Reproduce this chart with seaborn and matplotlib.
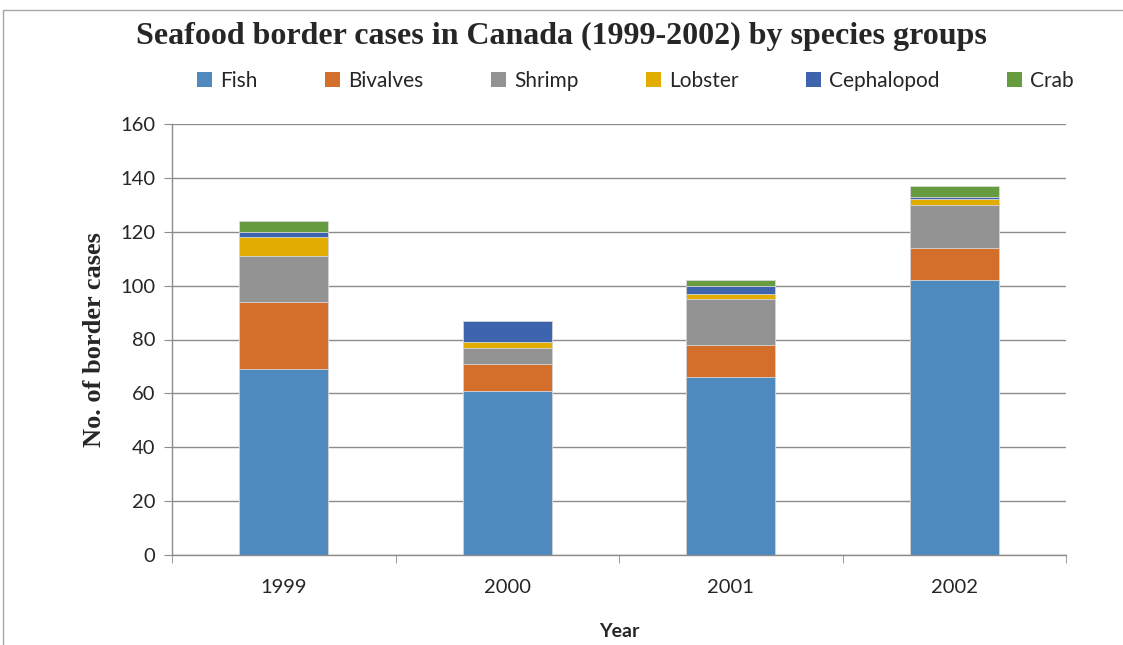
import pandas as pd
import numpy as np
import matplotlib
matplotlib.use('Agg')
import matplotlib.pyplot as plt
import seaborn as sns
from matplotlib.patches import Patch
from matplotlib.lines import Line2D

# Data
years = ['1999', '2000', '2001', '2002']
species = ['Fish', 'Bivalves', 'Shrimp', 'Lobster', 'Cephalopod', 'Crab']
fish = [69, 61, 66, 102]
bivalves = [25, 10, 12, 12]
shrimp = [17, 6, 17, 16]
lobster = [7, 2, 2, 2]
cephalopod = [2, 8, 3, 1]
crab = [4, 0, 2, 4]
colors = ['#4F8ABF', '#D46F2B', '#939393', '#E3AC00', '#3F64AE', '#669B40']

df = pd.DataFrame({'Year': years, 'Fish': fish, 'Bivalves': bivalves,
                   'Shrimp': shrimp, 'Lobster': lobster,
                   'Cephalopod': cephalopod, 'Crab': crab})
cum = df[species].cumsum(axis=1)
cum['Year'] = df['Year']

sns.set_style('white')
plt.rcParams['font.family'] = ['Lato', 'DejaVu Sans']

fig = plt.figure(figsize=(11.23, 6.45), dpi=100)
ax = fig.add_axes([172 / 1123, 1 - 555 / 645, 894 / 1123, 431 / 645])

# draw the stacks from the top down so each layer covers the one above
for name, col in reversed(list(zip(species, colors))):
    sns.barplot(data=cum, x='Year', y=name, color=col, width=0.4,
                edgecolor='#d8d8d8', linewidth=0.6, saturation=1, ax=ax)

grid_col = '#8c8c8c'
ax.set_ylim(0, 160)
ax.set_xlim(-0.5, 3.5)
ax.set_yticks(np.arange(0, 161, 20))
ax.yaxis.grid(True, color=grid_col, linewidth=1)
ax.set_axisbelow(True)
for s in ['top', 'right']:
    ax.spines[s].set_visible(False)
for s in ['left', 'bottom']:
    ax.spines[s].set_color(grid_col)
    ax.spines[s].set_linewidth(1)

ax.tick_params(axis='y', length=6, color=grid_col, labelsize=14.5, pad=6, left=True)
ax.tick_params(axis='x', which='major', length=0, labelsize=14.5, pad=17)
ax.set_xticks(np.arange(-0.5, 3.6, 1), minor=True)
ax.tick_params(axis='x', which='minor', length=6, color=grid_col, bottom=True)

ax.set_xlabel('Year', fontsize=14, fontweight='bold', labelpad=20)
ax.set_ylabel('No. of border cases', fontsize=19, fontweight='bold',
              family='Liberation Serif', labelpad=10)

fig.text(0.5, 1 - 36 / 645, 'Seafood border cases in Canada (1999-2002) by species groups',
         ha='center', va='center', fontsize=23, fontweight='bold',
         family='Liberation Serif')

handles = [Patch(facecolor=c, edgecolor='none', label=s) for s, c in zip(species, colors)]
fig.legend(handles=handles, loc='center', bbox_to_anchor=(0.566, 1 - 81 / 645),
           ncol=6, frameon=False, fontsize=15, handlelength=0.7, handleheight=0.7,
           handletextpad=0.4, columnspacing=3.25)

# outer chart frame (partially cropped in the reference)
fig.add_artist(Line2D([3 / 1123, 1], [1 - 10 / 645, 1 - 10 / 645],
                      transform=fig.transFigure, color='#a6a6a6', linewidth=1))
fig.add_artist(Line2D([3 / 1123, 3 / 1123], [0, 1 - 10 / 645],
                      transform=fig.transFigure, color='#a6a6a6', linewidth=1))

fig.savefig('out.png', dpi=100, facecolor='white')
